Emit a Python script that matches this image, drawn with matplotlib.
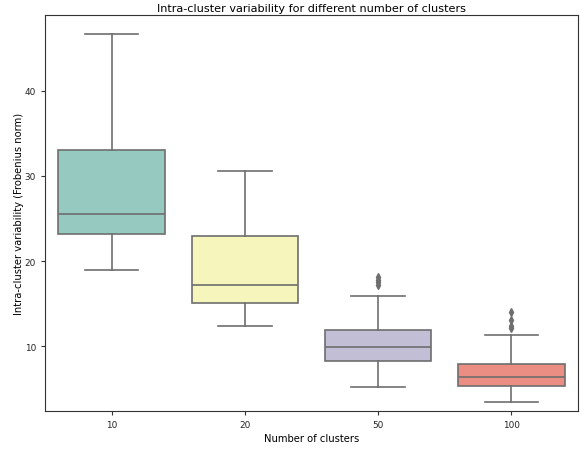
import colorsys
import matplotlib
matplotlib.use("Agg")
import matplotlib.pyplot as plt
import matplotlib.colors as mcolors

categories = ["10", "20", "50", "100"]
medians = [25.5, 17.2, 9.95, 6.43]
q1 = [23.2, 15.08, 8.31, 5.34]
q3 = [33.04, 22.95, 11.91, 7.96]
whisker_low = [18.96, 12.38, 5.26, 3.43]
whisker_high = [46.65, 30.57, 15.9, 11.36]
outliers = [[], [], [17.2, 17.5, 17.8, 18.15], [12.1, 12.4, 13.1, 14.0]]

base_colors = ["#8dd3c7", "#ffffb3", "#bebada", "#fb8072"]


def desaturate(c, prop=0.75):
    r, g, b = mcolors.to_rgb(c)
    h, l, s = colorsys.rgb_to_hls(r, g, b)
    return colorsys.hls_to_rgb(h, l, s * prop)


fills = [desaturate(c) for c in base_colors]
line_gray = "#6e6e6e"

fig = plt.figure(figsize=(5.84, 4.52), dpi=100)
ax = fig.add_axes([45 / 584, 1 - 412.3 / 452, (578 - 45) / 584, (412.3 - 16) / 452])

stats = []
for i in range(len(categories)):
    stats.append({
        "med": medians[i], "q1": q1[i], "q3": q3[i],
        "whislo": whisker_low[i], "whishi": whisker_high[i],
        "fliers": outliers[i], "label": categories[i],
    })

bp = ax.bxp(stats, positions=range(len(categories)), widths=0.8, patch_artist=True,
            boxprops=dict(edgecolor=line_gray, linewidth=1.2),
            medianprops=dict(color=line_gray, linewidth=1.2),
            whiskerprops=dict(color=line_gray, linewidth=1.2),
            capprops=dict(color=line_gray, linewidth=1.2),
            capwidths=0.4,
            flierprops=dict(marker="d", markerfacecolor=line_gray, markeredgecolor=line_gray,
                            markersize=4, linestyle="none"))
for patch, col in zip(bp["boxes"], fills):
    patch.set_facecolor(col)

ax.set_xlim(-0.5, len(categories) - 0.5)
ax.set_ylim(2.37, 48.88)
ax.set_yticks([10, 20, 30, 40])
ax.tick_params(labelsize=6.4, length=3, color="#333333", labelcolor="#222222")
for s in ax.spines.values():
    s.set_color("#333333")
    s.set_linewidth(0.8)

ax.set_title("Intra-cluster variability for different number of clusters", fontsize=8.1, pad=3)
ax.set_xlabel("Number of clusters", fontsize=7.2, labelpad=3)
ax.set_ylabel("Intra-cluster variability (Frobenius norm)", fontsize=7.2, labelpad=0.5)

fig.savefig("out.png", dpi=100)
